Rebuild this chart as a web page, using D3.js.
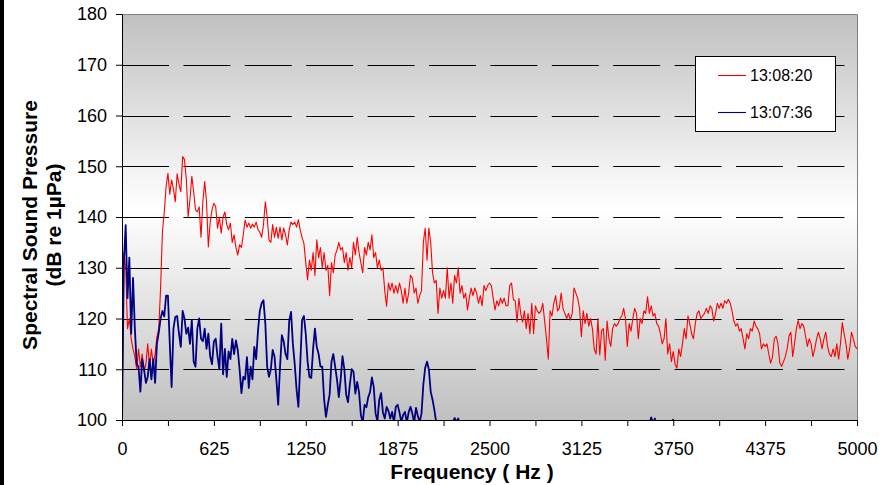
<!DOCTYPE html>
<html><head><meta charset="utf-8">
<script src="https://cdn.jsdelivr.net/npm/d3@7"></script>
<style>
body{margin:0;background:#fff}
svg{display:block}
text{font-family:"Liberation Sans",Arial,sans-serif}
</style>
</head><body>
<svg id="c" width="890" height="485"></svg>
<script>
// ---------------- data ----------------
const freqStep = 12.5; // Hz between spectrum bins
const seriesNames = ["13:08:20", "13:07:36"];
const redValues = [
100,133,130,118,120,116,114,112.5,110,114,
110.5,113,109.5,111,115,110.5,114,111,113,116.4,
118,126,137,141,146,148.6,144.5,147.3,145.5,143,
148.5,146.5,145,151.9,151.3,147.5,140,143.5,148,145,
141.4,141,142,136,143,147,143,134.1,139,141.5,
142.7,142,137.8,140,136.8,140,141,138.5,137.5,138.8,
135,136.5,134,132.5,134.5,134,136.5,139.4,138,138.8,
137.8,138.6,138,139,137.5,137,136,138.5,143,140,
135.5,135,138.5,136,138,135.8,138,135.5,137.8,136.5,
134.5,137.5,139,138.5,139,138,139.5,137.4,136,134.8,
131,127.6,131.5,129.5,133,128.5,135.5,132,134,130,
133,129.5,130.5,124.5,131,129,132.5,133.5,135,133.5,
134,131,133,129.5,132,130,135,132.5,136,133,
131,129,134,132.5,135,133.5,136.5,132,133,130,
131.5,129.5,130,125.5,122.4,127,125.5,127,125,126.5,
125,127,125.5,123,126,123,125,128.5,128,125,
126,123,124.5,125.5,135,137.8,131.5,137.8,135,129,
127,127.5,121,126,124,125.5,124,130,124,127,
123,128.5,127,130,125,126.5,124,125,121.7,124,
126,124.5,126,125,123,124.5,122.5,126.5,125.5,126.5,
127,126.5,124,121.7,123.5,122.5,124,123,124,122.5,
122.5,126.5,127,123.7,123.5,119.3,124,121,119.3,121.5,
118,121,117,123,117,122.5,121.5,121,121.5,123,
119.5,116,112,121.5,120.5,123,124.5,121.5,122,125,
122,121,120,121,119.7,121,126,125,124,122,
116.4,121.5,119,121,118.5,120,118,114,113,120,
112.8,117.6,118,111.8,119.5,116,114.5,118,119,118.5,
119,120,120.5,122,120,114.5,119,117.5,120,122,
121,116,120,119,121.5,121,124.3,121,122.5,120.5,
121,119,118.5,117,115,116,120,113,115,111.5,
113.5,111,110.2,114,112.5,115,118,116,120.5,119,
117,116,119,121,121.5,120,120.5,121,122,121,
122.5,122,119.5,121,123,122,123,122,123.5,123,
123.8,123,121.5,119.5,118.5,119,117.5,118,116,114,
117,116,118,117.5,119.5,118.5,118,117,114,115,
114.5,115,113,111.2,112.4,116,116.5,115,111.2,110.6,
111.5,112.5,114,116.6,117.3,112.5,115,118,119.6,118,
119,118.5,116.5,114.5,116,115,112.5,114,116,117.3,
116,114,116,117.3,114.5,113,112.5,114,112.5,115,
112,115,119.2,117,115,112,114,117.3,116,114.5,114
];
const blueValues = [
99,131,138.4,124,132,117,128,118,111,110.5,
105.6,112,110,107.3,108.5,112,108,112,107.3,115,
117.2,120,121.5,120.4,124.5,124.5,115,106.5,118,120.3,
120.5,117,114.4,121.5,120,117,118.2,115,119.7,111.5,
110.5,118,120,116,115.5,118,114,117,112.5,111,
115.5,116,112.5,110,119,109,114,108.5,113.5,112,
116,113,115.7,113.8,110,105.3,108.5,108,112.4,106.3,
110.5,108,114.4,112,117.5,121.5,123,123.6,119,110.5,
108.5,110,113.8,112.5,108,103,110.5,116.7,115.5,113,
112,119.5,121.3,115,111,106,102.6,111,119.7,120.5,
117,111.5,108.5,108.3,114,118,114.4,113,110.5,110.5,
104,100.6,103,105,111.5,113,110.5,108,104.5,108,
112.6,110,105,103.5,107,110,109.5,105.2,107.5,105.5,
101,99.5,103,102.5,104.5,105.5,108.4,106.5,101.3,99.8,
104,105.3,101.5,100.3,102.6,101.8,100.3,101.6,99.5,102.6,
103,101.5,99.6,101,101.6,99.5,101.5,102.6,101.3,99.5,
102.4,100.8,99.6,101.3,107,110.3,111.5,110,105.6,104,
102,99.5,98,97.5,98.5,97,98,99,97.5,98.5,
99.5,100.4,99.6,100.3,98,97,98.5,97.5,96.5,98,
97,96,97.5,98,96.5,97,98,97,96,97.5,
96.5,97,98,96,97,96.5,95.5,97,98,96.5,
97,96,97.5,96,95,96.5,97.5,96,97,98,
96.5,95.5,97,96,97.5,96.5,95,96,97,96.5,
97.5,96,95.5,97,98,96.5,97,95.5,96,97.5,
96,97,98,96.5,95.5,97,96,97.5,98,96.5,
97,96,95,96.5,97.5,96,97,98,96.5,97,
98,96.5,97,95.5,96,97.5,98,97,96,97.5,
98.5,97,96,97.5,98,96.5,97,98.5,97.5,96.5,
97.5,98.5,97,98,99,97.5,98.5,99.2,100.5,99.4,
100.3,98,97.5,98.5,97,98,99,98.5,97.5,99,100.2
];
const yTicks = [100,110,120,130,140,150,160,170,180];
const xTicks = [0,312.5,625,937.5,1250,1562.5,1875,2187.5,2500,2812.5,3125,3437.5,3750,4062.5,4375,4687.5,5000];
const xLabelEvery = 625;
const xTitle = "Frequency ( Hz )";
const yTitle = ["Spectral Sound Pressure", "(dB re 1\u00b5Pa)"];

// ---------------- chart ----------------
const svg = d3.select("#c");
const L=122, R=857, T=14, B=420;
const x = d3.scaleLinear().domain([0,5000]).range([L,R]);
const y = d3.scaleLinear().domain([100,180]).range([B,T]);

svg.append("rect").attr("x",0).attr("y",0).attr("width",4).attr("height",485).attr("fill","#000");

const defs = svg.append("defs");
const g = defs.append("linearGradient").attr("id","bg").attr("x1",0).attr("y1",0).attr("x2",0).attr("y2",1);
g.append("stop").attr("offset","0%").attr("stop-color","#c0c0c0");
g.append("stop").attr("offset","48%").attr("stop-color","#ffffff");
g.append("stop").attr("offset","100%").attr("stop-color","#c0c0c0");
defs.append("clipPath").attr("id","clip").append("rect")
  .attr("x",L).attr("y",T).attr("width",R-L).attr("height",B-T);

svg.append("rect").attr("x",L).attr("y",T).attr("width",R-L).attr("height",B-T).attr("fill","url(#bg)");

// gridlines
svg.append("g").selectAll("line").data(yTicks.filter(d=>d>100 && d<180)).join("line")
  .attr("x1",L).attr("x2",R-12)
  .attr("y1",d=>Math.round(y(d))+0.5).attr("y2",d=>Math.round(y(d))+0.5)
  .attr("stroke","#000").attr("stroke-width",1).attr("stroke-dasharray","47,14.4");

// plot border (top/right)
svg.append("path").attr("d",`M${L},${T+0.5}H${R+0.5}V${B}`).attr("fill","none").attr("stroke","#808080").attr("stroke-width",1);

// series
const line = d3.line().x((d,i)=>x(i*freqStep)).y(d=>y(d));
const plot = svg.append("g").attr("clip-path","url(#clip)");
plot.append("path").datum(redValues).attr("d",line).attr("fill","none").attr("stroke","#ff0000").attr("stroke-width",1.1).attr("stroke-linejoin","round");
plot.append("path").datum(blueValues).attr("d",line).attr("fill","none").attr("stroke","#000080").attr("stroke-width",1.8).attr("stroke-linejoin","round");

// axes
const ya = svg.append("g").attr("transform",`translate(${L},0)`)
  .call(d3.axisLeft(y).tickValues(yTicks).tickSize(6).tickSizeOuter(0).tickPadding(9));
ya.selectAll("text").attr("font-size",18).attr("fill","#000").style("font-family",'"Liberation Sans",Arial,sans-serif');
ya.selectAll("line,path").attr("stroke","#000");

const xa = svg.append("g").attr("transform",`translate(0,${B})`)
  .call(d3.axisBottom(x).tickValues(xTicks).tickSize(6).tickSizeOuter(0).tickPadding(16)
    .tickFormat(d=> (d % xLabelEvery === 0) ? d3.format("d")(d) : ""));
xa.selectAll("text").attr("font-size",18).attr("fill","#000").style("font-family",'"Liberation Sans",Arial,sans-serif');
xa.selectAll("line,path").attr("stroke","#000");

// titles
svg.append("text").attr("x",472).attr("y",479).attr("text-anchor","middle")
  .attr("font-size",21).attr("font-weight","bold").text(xTitle);
svg.append("text").attr("transform","translate(37,225) rotate(-90)").attr("text-anchor","middle")
  .attr("font-size",21).attr("font-weight","bold").text(yTitle[0]);
svg.append("text").attr("transform","translate(61,225) rotate(-90)").attr("text-anchor","middle")
  .attr("font-size",21).attr("font-weight","bold").text(yTitle[1]);

// legend
const lg = svg.append("g");
lg.append("rect").attr("x",695.5).attr("y",56.5).attr("width",140).attr("height",75).attr("fill","#fff").attr("stroke","#000");
const colors = ["#ff0000","#000080"];
seriesNames.forEach((n,i)=>{
  const yy = i===0 ? 75.5 : 112.5;
  lg.append("line").attr("x1",718).attr("x2",746).attr("y1",yy).attr("y2",yy).attr("stroke",colors[i]).attr("stroke-width",1.1);
  lg.append("text").attr("x",750).attr("y",yy+5.5).attr("font-size",16).text(n);
});
</script>
</body></html>
